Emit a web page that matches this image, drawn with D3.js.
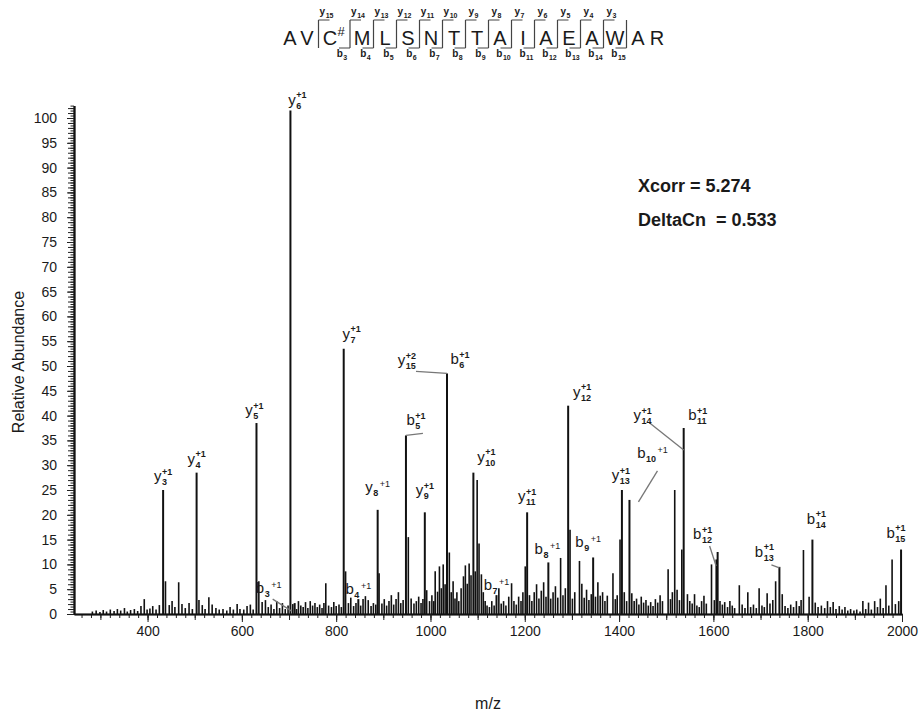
<!DOCTYPE html>
<html>
<head>
<meta charset="utf-8">
<script src="https://cdn.jsdelivr.net/npm/d3@7"></script>
<style>
  body { margin: 0; background: #fff; }
  svg text { font-family: "Liberation Sans", Arial, sans-serif; fill: #1a1a1a; }
</style>
</head>
<body>
<script>
// peptide and fragment numbering
var residues = ["A","V","C","M","L","S","N","T","T","A","I","A","E","A","W","A","R"];
var yIonNums = [15,14,13,12,11,10,9,8,7,6,5,4,3];   // cleavage after residue 2..14
var bIonNums = [3,4,5,6,7,8,9,10,11,12,13,14,15];   // cleavage after residue 3..15

// axis ticks
var xTicks = [400,600,800,1000,1200,1400,1600,1800,2000];
var yTicks = d3.range(0, 101, 5);

// score text
var scores = ["Xcorr = 5.274", "DeltaCn  = 0.533"];

// labelled fragment peaks [m/z, relative abundance]
var fragPeaks = [
  [433,25.0],[504,28.5],[631,38.5],[703,101.5],[712,2.2],[816,53.5],[847,3.0],
  [888,21.0],[948,36.0],[988,20.5],[1035,48.5],[1091,28.5],[1140,3.8],[1205,20.5],[1250,10.4],
  [1292,42.0],[1345,11.4],[1406,25.0],[1422,23.0],[1537,37.5],[1609,12.5],
  [1740,9.5],[1810,15.0],[1998,13.0]
];

// other peaks [m/z, relative abundance]
var otherPeaks = [
  [283,0.5],[291,0.7],[299,0.4],[306,0.8],[313,0.5],[321,0.9],[329,0.6],[336,1.0],[343,0.7],
  [351,1.2],[357,0.5],[364,0.8],[372,1.0],[379,0.6],[386,1.6],[393,3.0],[399,0.9],[405,1.1],
  [411,1.6],[418,0.9],[425,1.8],
  [438,6.6],[446,1.8],[452,2.6],[458,1.4],[466,6.4],[473,2.0],[480,1.2],[488,2.2],[495,1.0],
  [509,2.8],[516,1.8],[522,1.0],[530,3.4],[537,1.9],[545,1.2],[552,0.9],[560,1.0],[568,0.7],
  [575,1.4],[582,0.9],[590,2.0],[596,1.0],[604,0.9],[611,1.6],[618,1.9],[624,0.9],[636,6.6],
  [643,2.4],[650,2.8],[656,1.4],[662,1.9],[668,1.0],[674,2.6],[680,1.2],[686,2.2],[692,1.0],
  [698,1.7],
  [708,2.0],[716,1.0],[720,2.6],[725,1.7],[730,1.4],[735,2.4],[740,1.2],[745,2.6],[750,1.7],
  [755,2.2],[760,1.4],[765,1.9],[770,1.2],[774,2.2],[778,6.2],[784,1.7],[790,1.4],[795,2.4],
  [800,1.6],[806,1.9],[811,1.4],[820,8.6],[826,2.2],[831,3.3],[837,1.6],[842,2.2],[852,1.7],
  [857,3.0],[862,3.6],[868,2.8],[874,1.6],[879,2.2],[884,1.9],[891,8.2],[897,2.1],[902,3.0],
  [907,1.7],[912,2.6],[917,3.8],[922,1.9],[927,3.0],[932,4.4],[937,2.2],[942,2.8],[953,15.5],
  [959,3.1],[965,2.1],[970,2.6],[975,3.5],[980,2.2],[984,3.0],[992,4.8],[998,2.6],
  [1003,3.8],[1007,2.6],[1010,8.6],[1015,4.5],[1019,9.6],[1023,5.2],[1027,10.0],[1031,6.0],
  [1040,12.4],[1044,4.4],[1048,6.6],[1052,3.1],[1056,4.4],[1060,2.6],[1065,5.2],[1070,7.6],
  [1074,9.8],[1078,6.1],[1082,10.2],[1086,7.8],[1095,8.6],[1099,27.0],[1103,14.2],[1108,8.0],
  [1112,4.4],[1116,2.6],[1120,1.7],
  [1125,1.4],[1130,2.6],[1135,1.7],[1145,5.2],[1150,2.1],[1155,2.6],[1160,1.7],
  [1166,3.5],[1172,6.2],[1177,2.6],[1182,1.9],[1187,3.5],[1192,2.6],[1196,4.4],[1201,9.6],
  [1210,3.8],[1215,2.6],[1220,4.4],[1225,6.0],[1230,3.1],[1235,4.7],[1240,6.4],[1245,3.5],
  [1255,3.1],[1260,4.4],[1265,5.6],[1270,3.3],[1276,11.3],[1281,3.8],[1286,5.2],[1296,17.0],
  [1301,3.1],[1306,4.4],[1316,10.7],[1321,6.1],[1326,3.3],[1331,4.9],[1336,2.8],[1341,4.0],
  [1350,3.5],[1355,6.4],[1360,3.7],[1365,4.4],[1370,2.6],[1375,3.7],[1387,8.2],[1392,3.0],
  [1396,3.8],[1402,15.0],
  [1411,4.4],[1416,2.6],[1427,4.2],[1432,2.6],[1437,3.1],[1442,1.9],[1447,3.5],[1452,2.3],
  [1457,2.8],[1462,1.7],[1467,2.4],[1472,1.6],[1477,3.0],[1482,2.3],[1487,3.8],[1492,2.6],
  [1504,9.0],[1509,3.0],[1513,4.4],[1518,25.0],[1523,4.9],[1528,2.8],[1533,13.0],[1545,4.0],
  [1550,2.6],[1555,2.1],[1560,4.0],[1565,1.7],[1570,1.4],[1575,2.6],[1580,3.7],[1585,2.1],
  [1596,10.0],[1602,2.8],[1606,11.0],[1614,2.6],[1619,1.9],[1624,2.4],[1630,1.4],[1635,2.6],
  [1640,1.7],[1645,1.2],
  [1655,5.8],[1661,1.9],[1667,1.2],[1673,4.4],[1679,1.4],[1685,1.9],[1691,1.2],[1697,5.2],
  [1703,1.7],[1708,1.4],[1714,4.2],[1720,2.1],[1726,2.8],[1732,6.6],[1746,4.0],[1752,1.6],
  [1758,1.2],[1764,1.9],[1770,1.4],[1776,2.6],[1782,1.6],[1786,2.8],[1791,12.9],[1803,3.5],
  [1816,2.3],[1822,1.4],[1829,1.7],[1836,1.2],[1842,2.6],[1848,1.4],[1854,2.4],[1860,1.0],
  [1867,1.6],[1873,0.9],[1879,1.4],[1885,0.7],[1891,1.0],[1898,0.7],[1904,0.9],[1911,0.5],
  [1917,2.6],[1923,1.0],[1929,2.3],[1935,0.9],[1942,2.6],[1948,1.4],[1954,3.1],[1960,1.2],
  [1966,5.8],[1972,1.7],[1979,11.0],[1986,2.0],[1993,2.6]
];

// ion annotations: ion, number, charge, m/z of the peak it points at
var ionLabels = [
  ["y",3,"+1",433],["y",4,"+1",504],["y",5,"+1",631],["y",6,"+1",703],["b",3,"+1",712],
  ["y",7,"+1",816],["b",4,"+1",847],["y",8,"+1",888],["b",5,"+1",948],["y",9,"+1",988],
  ["y",15,"+2",1035],["b",6,"+1",1035],["y",10,"+1",1091],["b",7,"+1",1140],["y",11,"+1",1205],
  ["b",8,"+1",1250],["y",12,"+1",1292],["b",9,"+1",1345],["y",13,"+1",1406],["b",10,"+1",1422],
  ["y",14,"+1",1537],["b",11,"+1",1537],["b",12,"+1",1609],["b",13,"+1",1740],["b",14,"+1",1810],
  ["b",15,"+1",1998]
];

// where each annotation sits relative to the top of its peak (px)
var labelPlace = {
  y3:{dx:0,dy:-9}, y4:{dx:0,dy:-9}, y5:{dx:-2,dy:-8}, y6:{dx:7,dy:-6},
  b3:{dx:-26,dy:-10,flat:true,line:[-22,-4,-3,8]},
  y7:{dx:8,dy:-10}, b4:{dx:0,dy:-5,flat:true}, y8:{dx:0,dy:-18,flat:true},
  b5:{dx:10,dy:-10,line:[0,0,17,-2]}, y9:{dx:0,dy:-17},
  y15:{dx:-40,dy:-8,line:[0,0,-31,-2]}, b6:{dx:13,dy:-9},
  y10:{dx:13,dy:-11}, b7:{dx:0,dy:-5,flat:true}, y11:{dx:0,dy:-11},
  b8:{dx:-1,dy:-8,flat:true}, y12:{dx:14,dy:-9}, b9:{dx:-5,dy:-10,flat:true},
  y13:{dx:-1,dy:-10}, b10:{dx:23,dy:-42,flat:true,line:[9,2,28,-29]},
  y14:{dx:-41,dy:-8,line:[-34,-5,0,22]}, b11:{dx:14,dy:-8},
  b12:{dx:-15,dy:-13,line:[-8,-6,-1.5,14]}, b13:{dx:-15,dy:-10,line:[-8,-2,0,1]},
  b14:{dx:4,dy:-16}, b15:{dx:-5,dy:-12}
};

var svg = d3.select("body").append("svg")
    .attr("width", 920)
    .attr("height", 720);

// set the ranges
var x = d3.scaleLinear().domain([244, 2000]).range([74, 902]);
var y = d3.scaleLinear().domain([0, 102.5]).range([614, 105.6]);

// y axis: fine comb, unit ticks, labelled ticks
svg.append("g")
    .attr("transform", "translate(74,0)")
    .call(d3.axisLeft(y).tickValues(d3.range(0, 102.51, 0.5)).tickSize(3.5).tickSizeOuter(0).tickFormat(""));
svg.append("g")
    .attr("transform", "translate(74,0)")
    .call(d3.axisLeft(y).tickValues(d3.range(0, 102.51, 1)).tickSize(6).tickSizeOuter(0).tickFormat(""));
svg.append("g")
    .attr("transform", "translate(74,0)")
    .call(d3.axisLeft(y).tickValues(yTicks).tickSize(7).tickSizeOuter(0).tickPadding(10))
    .call(function(g) { g.selectAll("text").attr("font-size", 14).attr("fill", "#222"); });

// x axis: minor, medium, labelled
svg.append("g")
    .attr("transform", "translate(0,614)")
    .call(d3.axisBottom(x).tickValues(d3.range(260, 2001, 20)).tickSize(4).tickSizeOuter(0).tickFormat(""));
svg.append("g")
    .attr("transform", "translate(0,614)")
    .call(d3.axisBottom(x).tickValues(d3.range(300, 2001, 100)).tickSize(6).tickSizeOuter(0).tickFormat(""));
svg.append("g")
    .attr("transform", "translate(0,614)")
    .call(d3.axisBottom(x).tickValues(xTicks).tickSize(8).tickSizeOuter(0).tickPadding(4).tickFormat(d3.format("d")))
    .call(function(g) { g.selectAll("text").attr("font-size", 14).attr("fill", "#222"); });

svg.selectAll(".domain").attr("stroke", "#111").attr("stroke-width", 1.6);
svg.selectAll(".tick line").attr("stroke", "#222");

// axis titles
svg.append("text")
    .attr("transform", "translate(24,362) rotate(-90)")
    .attr("text-anchor", "middle")
    .attr("font-size", 16)
    .text("Relative Abundance");
svg.append("text")
    .attr("x", 488)
    .attr("y", 709)
    .attr("text-anchor", "middle")
    .attr("font-size", 16)
    .text("m/z");

// peaks
svg.append("g").selectAll("line")
    .data(otherPeaks)
  .enter().append("line")
    .attr("x1", function(d) { return x(d[0]); })
    .attr("x2", function(d) { return x(d[0]); })
    .attr("y1", y(0))
    .attr("y2", function(d) { return y(d[1]); })
    .attr("stroke", "#111")
    .attr("stroke-width", 1.6);

svg.append("g").selectAll("line")
    .data(fragPeaks)
  .enter().append("line")
    .attr("x1", function(d) { return x(d[0]); })
    .attr("x2", function(d) { return x(d[0]); })
    .attr("y1", y(0))
    .attr("y2", function(d) { return y(d[1]); })
    .attr("stroke", "#111")
    .attr("stroke-width", 2);

// ion labels
var allPeaks = fragPeaks.concat(otherPeaks);
function peakAt(mz) {
  return allPeaks.filter(function(p) { return p[0] === mz; })[0];
}

var annot = svg.append("g");
ionLabels.forEach(function(d) {
  var p = labelPlace[d[0] + d[1]];
  var pk = peakAt(d[3]);
  var px = x(pk[0]), py = y(pk[1]);

  if (p.line) {
    annot.append("line")
        .attr("x1", px + p.line[0]).attr("y1", py + p.line[1])
        .attr("x2", px + p.line[2]).attr("y2", py + p.line[3])
        .attr("stroke", "#777")
        .attr("stroke-width", 1.3);
  }

  var lab = annot.append("g");
  var main = lab.append("text").attr("font-size", 15).text(d[0]);
  var w = main.node().getComputedTextLength();
  var sub = lab.append("text")
      .attr("font-size", 9).attr("font-weight", "bold")
      .attr("x", w + 0.5).attr("y", 4)
      .text(d[1]);
  var sw = sub.node().getComputedTextLength();
  var supX = p.flat ? w + sw + 2 : w + 0.5;
  var sup = lab.append("text")
      .attr("font-size", 9).attr("font-weight", p.flat ? "normal" : "bold")
      .attr("x", supX).attr("y", p.flat ? -5 : -6.5)
      .text(d[2]);
  var total = Math.max(w + sw, supX + sup.node().getComputedTextLength());
  lab.attr("transform", "translate(" + (px + p.dx - total / 2) + "," + (py + p.dy) + ")");
});

// scores
svg.selectAll(".score")
    .data(scores)
  .enter().append("text")
    .attr("class", "score")
    .attr("x", 638)
    .attr("y", function(d, i) { return 192 + i * 34; })
    .attr("font-size", 18)
    .attr("font-weight", "bold")
    .style("white-space", "pre")
    .text(function(d) { return d; });

// peptide header with fragment brackets
var head = svg.append("g");
var cx = [290];
residues.forEach(function(r, i) {
  if (i === 0) return;
  var step = (i === 1) ? 17 : (i === 16) ? 19 : 23;
  if (i === 3) step += 9;   // room for the "#"
  cx.push(cx[i - 1] + step);
});

head.selectAll(".res")
    .data(residues)
  .enter().append("text")
    .attr("class", "res")
    .attr("x", function(d, i) { return cx[i]; })
    .attr("y", 45)
    .attr("text-anchor", "middle")
    .attr("font-size", 20)
    .attr("fill", "#222")
    .text(function(d) { return d; });

head.append("text")
    .attr("x", cx[2] + 7.5)
    .attr("y", 36)
    .attr("font-size", 13)
    .text("#");

// separators after residue k (k = 2..15)
d3.range(2, 16).forEach(function(k) {
  var sx = (cx[k - 1] + cx[k]) / 2;
  if (k === 3) sx += 4;
  var top = 20, bot = 48;
  var path = "M" + sx + "," + top + "V" + bot;
  if (k <= 14) path += "M" + sx + "," + top + "H" + (sx + 11);
  if (k >= 3) path += "M" + sx + "," + bot + "H" + (sx - 11);
  head.append("path")
      .attr("d", path)
      .attr("fill", "none")
      .attr("stroke", "#444")
      .attr("stroke-width", 1.2);

  if (k <= 14) headLabel("y", yIonNums[k - 2], sx + 8, 15);
  if (k >= 3) headLabel("b", bIonNums[k - 3], sx - 8, 57);
});

function headLabel(ion, n, px, py) {
  var g = head.append("g");
  var t = g.append("text").attr("font-size", 10).attr("font-weight", "bold").text(ion);
  var w = t.node().getComputedTextLength();
  var s = g.append("text").attr("font-size", 7).attr("font-weight", "bold")
      .attr("x", w + 0.5).attr("y", 3).text(n);
  var total = w + 0.5 + s.node().getComputedTextLength();
  g.attr("transform", "translate(" + (px - total / 2) + "," + py + ")");
}
</script>
</body>
</html>
